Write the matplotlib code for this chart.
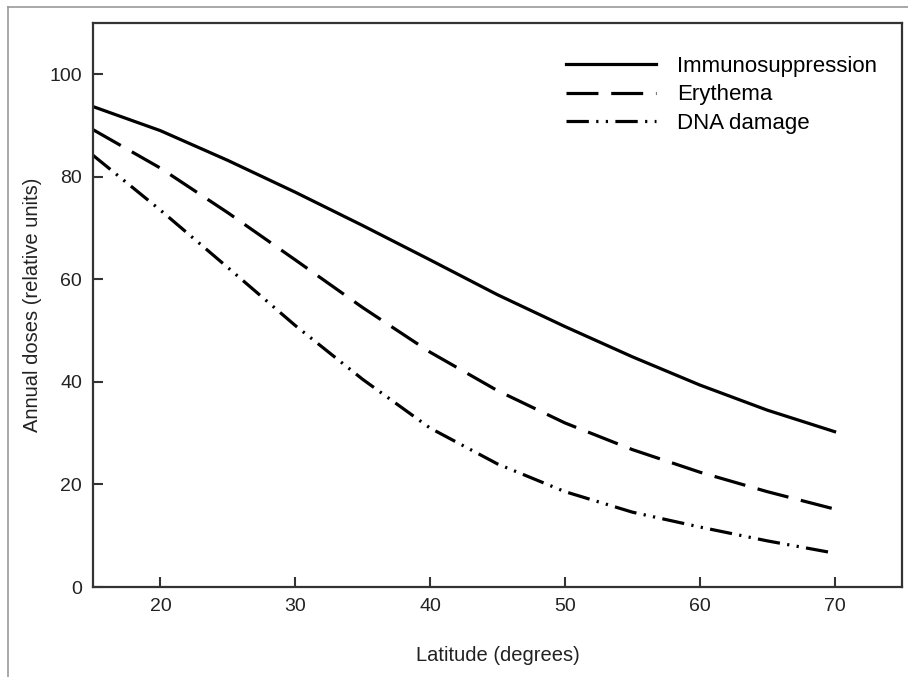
import matplotlib
matplotlib.use("Agg")
import matplotlib.pyplot as plt
from matplotlib.lines import Line2D

latitude = [15, 20, 25, 30, 35, 40, 45, 50, 55, 60, 65, 70]
immunosuppression = [93.7, 89.0, 83.2, 77.0, 70.5, 63.8, 57.0, 50.8, 44.9, 39.4, 34.5, 30.3]
erythema = [89.2, 81.7, 73.0, 63.8, 54.5, 45.8, 38.3, 32.0, 26.8, 22.4, 18.6, 15.2]
dna_damage = [84.2, 73.5, 62.3, 51.0, 40.5, 31.0, 24.0, 18.6, 14.6, 11.7, 9.0, 6.6]
series_names = ["Immunosuppression", "Erythema", "DNA damage"]
xticks = [20, 30, 40, 50, 60, 70]
yticks = [0, 20, 40, 60, 80, 100]

plt.rcParams['font.family'] = ['Liberation Sans', 'DejaVu Sans']

fig = plt.figure(figsize=(9.08, 6.77), dpi=100)
ax = fig.add_axes([93/908, 90/677, (902-93)/908, (587-23)/677])

lw = 2.3
ax.plot(latitude, immunosuppression, color='black', lw=lw, ls='-', label=series_names[0])
ax.plot(latitude, erythema, color='black', lw=lw, ls=(0, (10, 4)), label=series_names[1])
ax.plot(latitude, dna_damage, color='black', lw=lw, ls=(0, (7, 2.3, 0.7, 2.3, 0.7, 2.3)), label=series_names[2])

ax.set_xlim(15, 75)
ax.set_ylim(0, 110)
ax.set_xticks(xticks)
ax.set_yticks(yticks)
ax.tick_params(direction='in', length=7, width=1.5, labelsize=14, colors='#333333', labelcolor='#222222', pad=8)
for s in ax.spines.values():
    s.set_linewidth(1.6)
    s.set_color('#333333')

ax.set_xlabel("Latitude (degrees)", fontsize=14.5, color='#222222', labelpad=22)
ax.set_ylabel("Annual doses (relative units)", fontsize=14.5, color='#222222', labelpad=5)

leg = ax.legend(loc='upper right', bbox_to_anchor=(0.980, 0.958), borderaxespad=0, frameon=False, fontsize=16,
                handlelength=4.05, handletextpad=0.95, labelspacing=0.35)

# outer figure border (grey lines at left and top)
fig.add_artist(Line2D([8/908, 8/908], [0, 1 - 7/677], transform=fig.transFigure, color='#999999', lw=1.2))
fig.add_artist(Line2D([8/908, 1], [1 - 7/677, 1 - 7/677], transform=fig.transFigure, color='#999999', lw=1.2))

fig.savefig("out.png", dpi=100)
